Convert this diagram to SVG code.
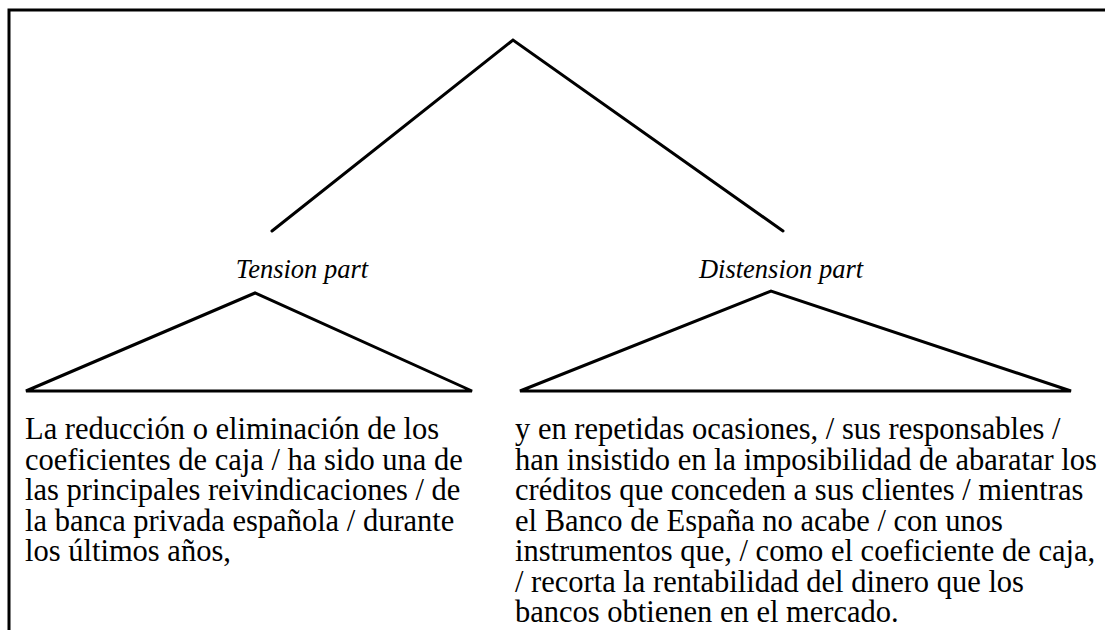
<svg xmlns="http://www.w3.org/2000/svg" width="1105" height="630" viewBox="0 0 1105 630">
<style>
.ln{stroke:#000;stroke-width:3;fill:none;stroke-linecap:round;stroke-linejoin:miter}
.fr{stroke:#000;stroke-width:3;fill:none}
.lab{font-family:'Liberation Serif','Times New Roman',Times,serif;font-style:italic;font-size:26.5px;fill:#000;text-anchor:middle}
.txt{font-family:'Liberation Serif','Times New Roman',Times,serif;font-size:30.5px;fill:#000}
</style>
<rect width="1105" height="630" fill="#fff"/>
<g id="frame">
<path class="fr" d="M9,630 V10 H1105"/>
</g>
<g id="connectors">
<path class="ln" d="M272,231 L513,40 L783,231"/>
</g>
<g id="tension">
<text class="lab" x="302" y="278">Tension part</text>
<path class="ln" d="M26,391 L255,293 L472,391 Z"/>
<text class="txt" x="25" y="439">
<tspan x="25" y="439">La reducción o eliminación de los</tspan>
<tspan x="25" y="469.5">coeficientes de caja / ha sido una de</tspan>
<tspan x="25" y="500">las principales reivindicaciones / de</tspan>
<tspan x="25" y="530.5">la banca privada española / durante</tspan>
<tspan x="25" y="561">los últimos años,</tspan>
</text>
</g>
<g id="distension">
<text class="lab" x="781" y="278">Distension part</text>
<path class="ln" d="M520,391 L771,291 L1071,391 Z"/>
<text class="txt" x="515" y="439">
<tspan x="515" y="439">y en repetidas ocasiones, / sus responsables /</tspan>
<tspan x="515" y="469.5">han insistido en la imposibilidad de abaratar los</tspan>
<tspan x="515" y="500">créditos que conceden a sus clientes / mientras</tspan>
<tspan x="515" y="530.5">el Banco de España no acabe / con unos</tspan>
<tspan x="515" y="561">instrumentos que, / como el coeficiente de caja,</tspan>
<tspan x="515" y="591.5">/ recorta la rentabilidad del dinero que los</tspan>
<tspan x="515" y="622">bancos obtienen en el mercado.</tspan>
</text>
</g>
</svg>
